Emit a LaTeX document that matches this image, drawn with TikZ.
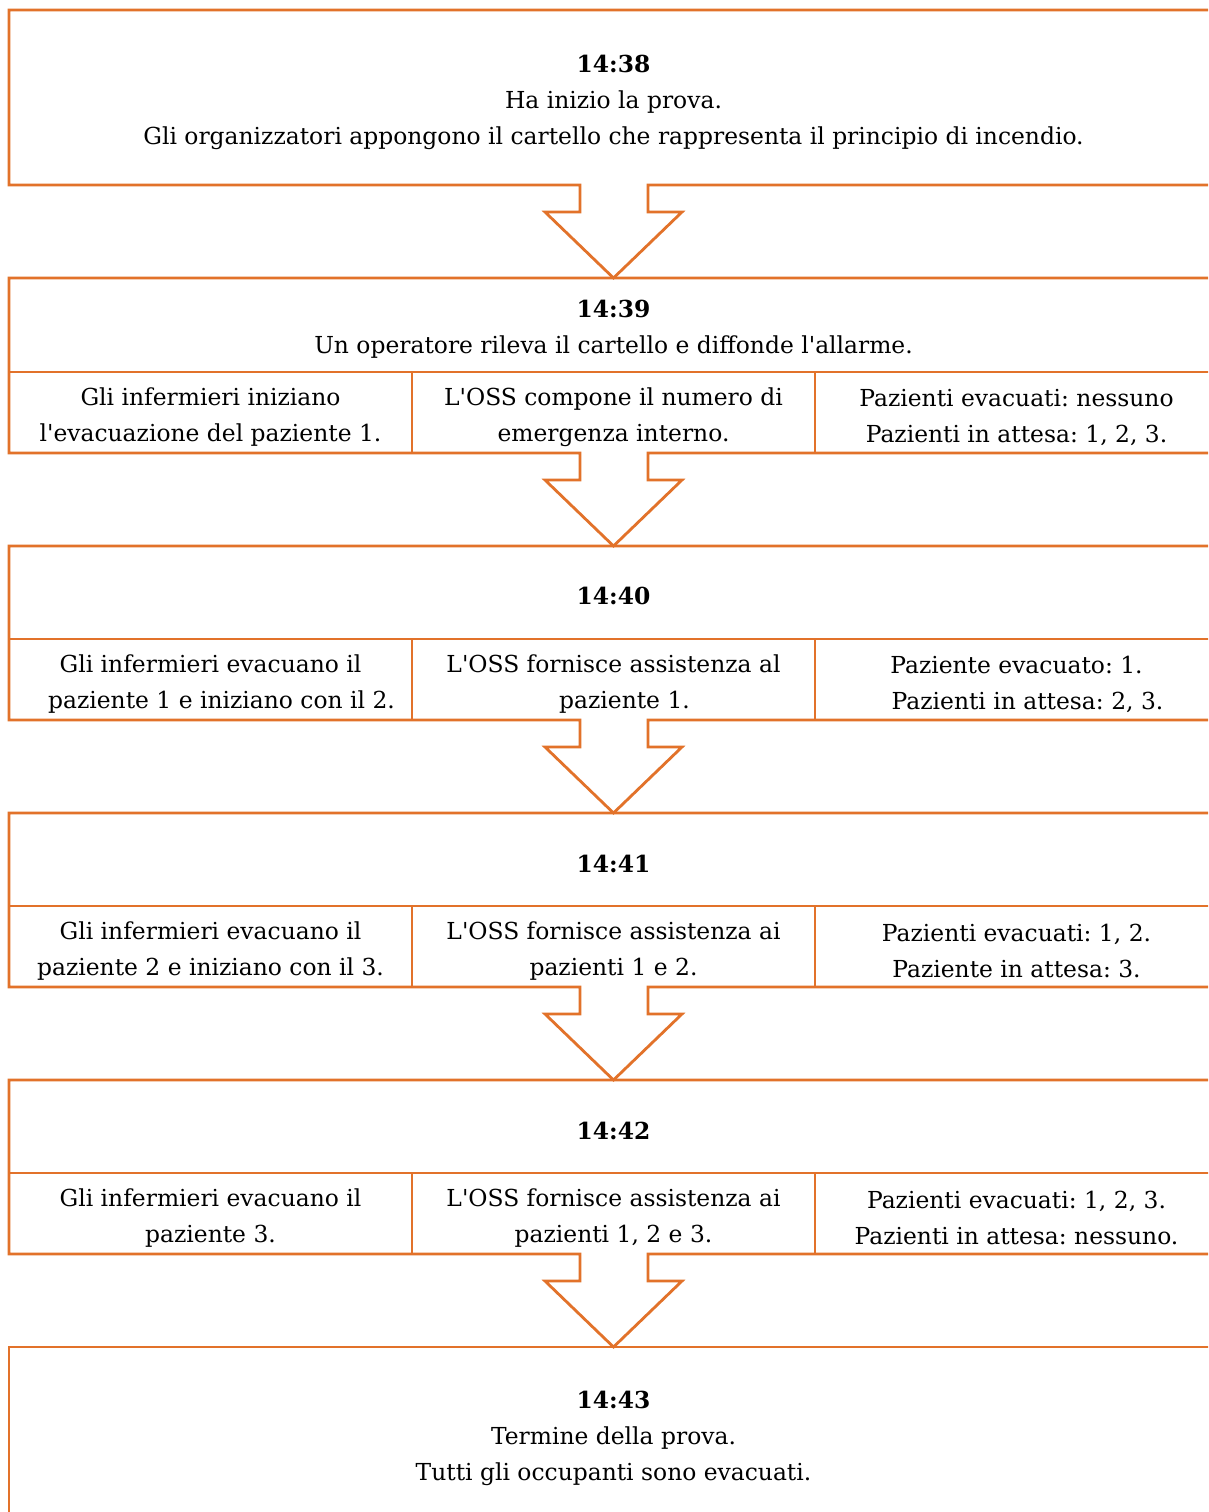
\documentclass[tikz,border=0pt]{standalone}
\usepackage{fontspec}
\newfontfamily\diagfont{DejaVu Serif}
\definecolor{boxorange}{RGB}{226,114,42}
\tikzset{
  frame/.style={draw=boxorange, line width=2.8pt, line join=miter},
  txt/.style={font=\diagfont\frenchspacing\fontsize{23.4}{36}\selectfont, align=center, inner sep=0pt, text=black},
}
\begin{document}
\begin{tikzpicture}[x=1pt,y=-1pt]
\useasboundingbox (0,0) rectangle (1208,1512);
\clip (0,0) rectangle (1208,1512);
\fill[white] (0,0) rectangle (1208,1512);

\foreach \t/\b in {10/185, 278/453, 546/720, 813/987, 1080/1254}{
  \draw[frame] (1230,\t) -- (9,\t) -- (9,\b) -- (580,\b) -- (580,\b+27) -- (545,\b+27)
     -- (613.5,\b+93) -- (682,\b+27) -- (648,\b+27) -- (648,\b) -- (1230,\b);
}
\draw[frame] (1230,1347) -- (9,1347) -- (9,1530);

\foreach \m/\b in {372/453, 639/720, 906/987, 1173/1254}{
  \draw[frame] (9,\m) -- (1230,\m);
  \draw[frame] (412,\m) -- (412,\b);
  \draw[frame] (815,\m) -- (815,\b);
}

\node[txt] (t1) at (613.5,102) {\textbf{14:38}\\Ha inizio la prova.\\Gli organizzatori appongono il cartello che rappresenta il principio di incendio.};

\node[txt] (t2) at (613.5,329) {\textbf{14:39}\\Un operatore rileva il cartello e diffonde l'allarme.};
\node[txt] (c2a) at (210.5,417) {Gli infermieri iniziano\\l'evacuazione del paziente 1.};
\node[txt] (c2b) at (613.5,417) {L'OSS compone il numero di\\emergenza interno.};
\node[txt] (c2c) at (1016.5,417) {Pazienti evacuati: nessuno\\Pazienti in attesa: 1, 2, 3.};

\node[txt] (t3) at (613.5,596) {\textbf{14:40}};
\node[txt] (c3a) at (210.5,684) {Gli infermieri evacuano il\\\hspace*{22pt}paziente 1 e iniziano con il 2.};
\node[txt] (c3b) at (613.5,684) {L'OSS fornisce assistenza al\\\hspace*{22pt}paziente 1.};
\node[txt] (c3c) at (1016.5,684) {Paziente evacuato: 1.\\\hspace*{22pt}Pazienti in attesa: 2, 3.};

\node[txt] (t4) at (613.5,864) {\textbf{14:41}};
\node[txt] (c4a) at (210.5,951) {Gli infermieri evacuano il\\paziente 2 e iniziano con il 3.};
\node[txt] (c4b) at (613.5,951) {L'OSS fornisce assistenza ai\\pazienti 1 e 2.};
\node[txt] (c4c) at (1016.5,951) {Pazienti evacuati: 1, 2.\\Paziente in attesa: 3.};

\node[txt] (t5) at (613.5,1131) {\textbf{14:42}};
\node[txt] (c5a) at (210.5,1218) {Gli infermieri evacuano il\\paziente 3.};
\node[txt] (c5b) at (613.5,1218) {L'OSS fornisce assistenza ai\\pazienti 1, 2 e 3.};
\node[txt] (c5c) at (1016.5,1218) {Pazienti evacuati: 1, 2, 3.\\Pazienti in attesa: nessuno.};

\node[txt] (t6) at (613.5,1438) {\textbf{14:43}\\Termine della prova.\\Tutti gli occupanti sono evacuati.};
\end{tikzpicture}
\end{document}
